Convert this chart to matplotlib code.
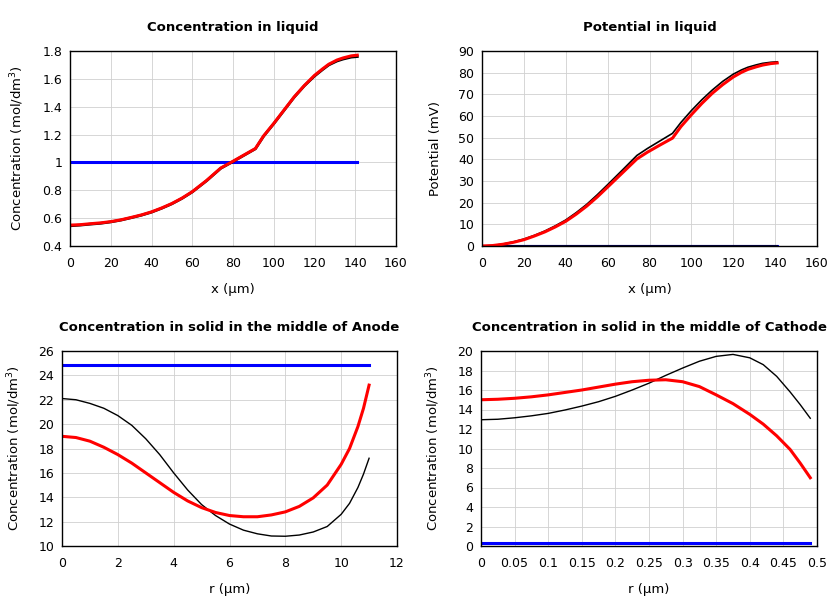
import matplotlib

matplotlib.use("Agg")
import matplotlib.pyplot as plt

# --- concentration in liquid ---
liq_x = [0, 5, 10, 15, 20, 25, 30, 35, 40, 45, 50, 55, 60, 67, 74, 79, 85, 91, 95, 100, 105, 110, 115, 120, 124, 127, 131, 134, 138, 141]
liq_c_red = [0.55, 0.553, 0.56, 0.566, 0.575, 0.588, 0.605, 0.623, 0.645, 0.673, 0.705, 0.744, 0.79, 0.87, 0.96, 1.0, 1.05, 1.1, 1.19, 1.28, 1.375, 1.47, 1.552, 1.625, 1.672, 1.705, 1.735, 1.75, 1.765, 1.77]
liq_c_black = [0.545, 0.55, 0.557, 0.563, 0.573, 0.586, 0.603, 0.621, 0.643, 0.671, 0.703, 0.742, 0.788, 0.868, 0.958, 0.998, 1.048, 1.098, 1.188, 1.278, 1.373, 1.468, 1.55, 1.62, 1.667, 1.7, 1.728, 1.742, 1.756, 1.76]
liq_c_blue = [1.0] * len(liq_x)

# --- potential in liquid ---
pot_black = [0, 0.2, 0.9, 1.9, 3.2, 4.9, 6.9, 9.3, 12.0, 15.4, 19.2, 23.6, 28.3, 35.0, 41.8, 45.0, 48.5, 52.0, 57.0, 62.5, 67.5, 72.0, 76.0, 79.3, 81.3, 82.5, 83.6, 84.3, 84.8, 85.0]
pot_red = [0, 0.2, 0.8, 1.7, 2.9, 4.6, 6.5, 8.8, 11.4, 14.7, 18.4, 22.6, 27.2, 33.7, 40.2, 43.3, 46.6, 49.8, 55.1, 60.6, 65.8, 70.5, 74.5, 78.0, 80.2, 81.5, 82.7, 83.5, 84.2, 84.5]
pot_zero = [0.0] * len(liq_x)

# --- solid, middle of anode ---
an_r = [0, 0.5, 1, 1.5, 2, 2.5, 3, 3.5, 4, 4.5, 5, 5.5, 6, 6.5, 7, 7.5, 8, 8.5, 9, 9.5, 10, 10.3, 10.6, 10.8, 11]
an_black = [22.1, 22.0, 21.7, 21.3, 20.7, 19.9, 18.8, 17.5, 16.0, 14.6, 13.4, 12.5, 11.8, 11.3, 11.0, 10.82, 10.8, 10.9, 11.15, 11.6, 12.6, 13.5, 14.8, 15.9, 17.2]
an_red = [19.0, 18.9, 18.6, 18.1, 17.5, 16.8, 16.0, 15.2, 14.4, 13.7, 13.15, 12.75, 12.5, 12.4, 12.4, 12.55, 12.8, 13.25, 13.95, 15.0, 16.7, 18.0, 19.8, 21.3, 23.2]
an_blue = [24.85] * len(an_r)

# --- solid, middle of cathode ---
ca_r = [0, 0.025, 0.05, 0.075, 0.1, 0.125, 0.15, 0.175, 0.2, 0.225, 0.25, 0.275, 0.3, 0.325, 0.35, 0.375, 0.4, 0.42, 0.44, 0.46, 0.475, 0.49]
ca_black = [12.95, 13.0, 13.15, 13.35, 13.6, 13.95, 14.35, 14.8, 15.35, 16.0, 16.7, 17.5, 18.25, 18.95, 19.45, 19.65, 19.3, 18.6, 17.4, 15.8, 14.5, 13.1]
ca_red = [15.0, 15.05, 15.15, 15.3, 15.5, 15.75, 16.0, 16.3, 16.6, 16.85, 17.0, 17.05, 16.85, 16.35, 15.5, 14.6, 13.5, 12.5, 11.3, 9.9, 8.5, 7.0]
ca_blue = [0.35] * len(ca_r)

plt.rcParams["font.family"] = "DejaVu Sans"
plt.rcParams["font.size"] = 9

fig = plt.figure(figsize=(8.4, 6), dpi=100)
W, H = 840, 600


def make_ax(x0, y0, x1, y1):
    return fig.add_axes([x0 / W, 1 - y1 / H, (x1 - x0) / W, (y1 - y0) / H])


def style(ax, title, xlabel, ylabel):
    ax.set_title(title, fontsize=9.5, fontweight="bold", pad=14.5)
    ax.set_xlabel(xlabel, fontsize=9.5, labelpad=9.5)
    ax.set_ylabel(ylabel, fontsize=9.5, labelpad=11.5)
    ax.grid(True, color="#d0d0d0", linewidth=0.6)
    ax.set_axisbelow(True)
    ax.tick_params(axis="both", length=0, labelsize=9)
    ax.tick_params(axis="x", pad=8)
    ax.tick_params(axis="y", pad=5.5)
    for s in ax.spines.values():
        s.set_linewidth(1.0)


ax1 = make_ax(70, 51, 396, 246)
ax1.plot(liq_x, liq_c_blue, color="blue", lw=2.2)
ax1.plot(liq_x, liq_c_black, color="black", lw=2.0)
ax1.plot(liq_x, liq_c_red, color="red", lw=2.2)
ax1.set_xlim(0, 160)
ax1.set_ylim(0.4, 1.8)
ax1.set_xticks(range(0, 161, 20))
ax1.set_yticks([0.4, 0.6, 0.8, 1.0, 1.2, 1.4, 1.6, 1.8])
ax1.set_yticklabels(["0.4", "0.6", "0.8", "1", "1.2", "1.4", "1.6", "1.8"])
style(ax1, "Concentration in liquid", "x (\u00b5m)", "Concentration (mol/dm$^3$)")

ax2 = make_ax(482, 51, 817, 246)
ax2.plot(liq_x, pot_zero, color="blue", lw=2.2)
ax2.plot(liq_x, pot_zero, color="#000040", lw=1.5)
ax2.plot(liq_x, pot_black, color="black", lw=1.2)
ax2.plot(liq_x, pot_red, color="red", lw=2.2)
ax2.set_xlim(0, 160)
ax2.set_ylim(0, 90)
ax2.set_xticks(range(0, 161, 20))
ax2.set_yticks(range(0, 91, 10))
style(ax2, "Potential in liquid", "x (\u00b5m)", "Potential (mV)")

ax3 = make_ax(62, 351, 397, 546)
ax3.plot(an_r, an_blue, color="blue", lw=2.2)
ax3.plot(an_r, an_black, color="black", lw=1.0)
ax3.plot(an_r, an_red, color="red", lw=2.2)
ax3.set_xlim(0, 12)
ax3.set_ylim(10, 26)
ax3.set_xticks(range(0, 13, 2))
ax3.set_yticks(range(10, 27, 2))
style(ax3, "Concentration in solid in the middle of Anode", "r (\u00b5m)", "Concentration (mol/dm$^3$)")

ax4 = make_ax(481, 351, 817, 546)
ax4.plot(ca_r, ca_blue, color="blue", lw=2.2)
ax4.plot(ca_r, ca_black, color="black", lw=1.0)
ax4.plot(ca_r, ca_red, color="red", lw=2.2)
ax4.set_xlim(0, 0.5)
ax4.set_ylim(0, 20)
ax4.set_xticks([0, 0.05, 0.1, 0.15, 0.2, 0.25, 0.3, 0.35, 0.4, 0.45, 0.5])
ax4.set_xticklabels(["0", "0.05", "0.1", "0.15", "0.2", "0.25", "0.3", "0.35", "0.4", "0.45", "0.5"])
ax4.set_yticks(range(0, 21, 2))
style(ax4, "Concentration in solid in the middle of Cathode", "r (\u00b5m)", "Concentration (mol/dm$^3$)")

fig.savefig("out.png", dpi=100)
